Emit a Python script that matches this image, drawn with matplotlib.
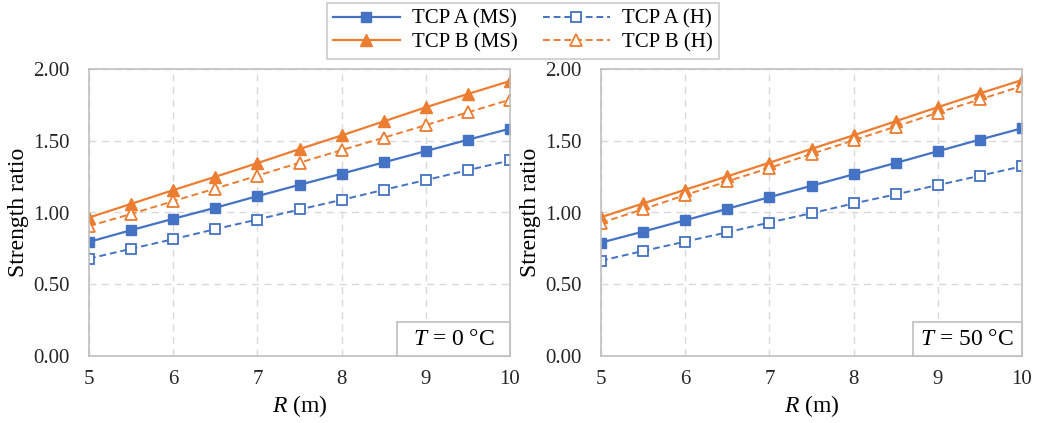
import matplotlib
matplotlib.use("Agg")
import matplotlib.pyplot as plt
from matplotlib.patches import Rectangle

plt.rcParams['font.family'] = ['Liberation Serif', 'DejaVu Serif']
plt.rcParams['mathtext.fontset'] = 'custom'
plt.rcParams['mathtext.it'] = 'Liberation Serif:italic'
plt.rcParams['mathtext.rm'] = 'Liberation Serif'

R = [5, 5.5, 6, 6.5, 7, 7.5, 8, 8.5, 9, 9.5, 10]

# T = 0 °C
a_ms_0 = [0.795, 0.877, 0.956, 1.033, 1.114, 1.193, 1.270, 1.349, 1.428, 1.507, 1.584]
a_h_0 = [0.679, 0.747, 0.814, 0.884, 0.951, 1.021, 1.088, 1.158, 1.226, 1.295, 1.363]
b_ms_0 = [0.965, 1.060, 1.156, 1.249, 1.344, 1.442, 1.537, 1.635, 1.733, 1.826, 1.916]
b_h_0 = [0.905, 0.990, 1.079, 1.167, 1.256, 1.347, 1.435, 1.521, 1.609, 1.698, 1.786]

# T = 50 °C
a_ms_50 = [0.790, 0.867, 0.946, 1.026, 1.107, 1.186, 1.266, 1.345, 1.427, 1.508, 1.587]
a_h_50 = [0.664, 0.732, 0.797, 0.862, 0.930, 0.995, 1.063, 1.126, 1.191, 1.256, 1.322]
b_ms_50 = [0.967, 1.063, 1.159, 1.252, 1.347, 1.443, 1.538, 1.636, 1.734, 1.830, 1.923]
b_h_50 = [0.928, 1.023, 1.121, 1.217, 1.310, 1.408, 1.503, 1.599, 1.695, 1.788, 1.881]

labels = ['TCP A (MS)', 'TCP A (H)', 'TCP B (MS)', 'TCP B (H)']
panel_text = [r'$T$ = 0 °C', r'$T$ = 50 °C']
yticks = [0.0, 0.5, 1.0, 1.5, 2.0]
xticks = [5, 6, 7, 8, 9, 10]

BLUE = '#4472C4'
ORANGE = '#ED7D31'
GRID = '#d9d9d9'
SPINE = '#bfbfbf'
TXT = '#262626'

fig = plt.figure(figsize=(10.38, 4.23), dpi=100)
axes = [fig.add_axes([89/1038, 1-356/423, 421/1038, 287/423]),
        fig.add_axes([601/1038, 1-356/423, 421/1038, 287/423])]

datasets = [(a_ms_0, a_h_0, b_ms_0, b_h_0), (a_ms_50, a_h_50, b_ms_50, b_h_50)]
box_x0 = [0.732, 0.740]

handles = None
for ax, (ams, ah, bms, bh), txt, bx in zip(axes, datasets, panel_text, box_x0):
    h1, = ax.plot(R, ams, color=BLUE, lw=1.6, marker='s', ms=6.5, mfc=BLUE, mec=BLUE, label=labels[0])
    h2, = ax.plot(R, ah, color=BLUE, lw=1.4, ls=(0, (3.5, 2)), marker='s', ms=6.5, mfc='white', mec=BLUE, mew=1.3, label=labels[1])
    h3, = ax.plot(R, bms, color=ORANGE, lw=1.6, marker='^', ms=8, mfc=ORANGE, mec=ORANGE, label=labels[2])
    h4, = ax.plot(R, bh, color=ORANGE, lw=1.4, ls=(0, (3.5, 2)), marker='^', ms=8, mfc='white', mec=ORANGE, mew=1.3, label=labels[3])
    handles = [h1, h2, h3, h4]
    ax.set_xlim(5, 10)
    ax.set_ylim(0, 2.0)
    ax.set_xticks(xticks)
    ax.set_yticks(yticks)
    ax.set_yticklabels([f'{v:.2f}' for v in yticks])
    ax.grid(True, color=GRID, ls=(0, (5, 4)), lw=1.0)
    ax.set_axisbelow(True)
    for s in ax.spines.values():
        s.set_color(SPINE)
        s.set_linewidth(1.2)
    ax.tick_params(axis='y', length=0, labelsize=15, pad=14, colors=TXT)
    ax.tick_params(axis='x', length=0, labelsize=15, pad=10, colors=TXT)
    ax.set_xlabel(r'$R$ (m)', fontsize=17, labelpad=3)
    ax.set_ylabel('Strength ratio', fontsize=17, labelpad=3)
    rect = Rectangle((bx, 0.0), 1 - bx, 34/287, transform=ax.transAxes,
                     facecolor='white', edgecolor=SPINE, lw=1.2, zorder=5, clip_on=False)
    ax.add_patch(rect)
    ax.text(bx + (1 - bx)/2, 17/287, txt, transform=ax.transAxes, ha='center', va='center',
            fontsize=17, zorder=6)

order = [0, 2, 1, 3]
leg = fig.legend([handles[i] for i in order], [labels[i] for i in order], ncol=2, loc='center',
                 bbox_to_anchor=(523/1038, 1-31/423),
                 fontsize=15, frameon=True, fancybox=False, edgecolor=SPINE,
                 handlelength=3.2, columnspacing=1.2, handletextpad=0.6, borderpad=0.3,
                 labelspacing=0.2)
leg.get_frame().set_linewidth(1.2)

fig.savefig('out.png', dpi=100)
